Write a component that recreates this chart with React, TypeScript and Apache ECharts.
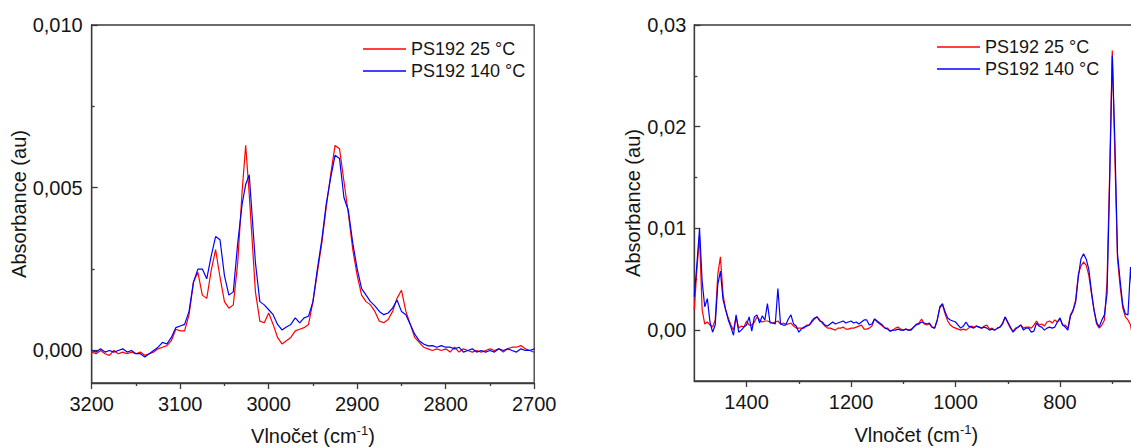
import React, { useEffect, useRef } from "react";
import * as echarts from "echarts";

const seriesNames = ["PS192 25 °C", "PS192 140 °C"];

// Left panel: C-H stretching region
const chWavenumber = [
  3200, 3195, 3190, 3185, 3180, 3175, 3170, 3165, 3160, 3155,
  3150, 3145, 3140, 3135, 3130, 3125, 3120, 3115, 3110, 3105,
  3100, 3095, 3090, 3085, 3080, 3075, 3070, 3065, 3060, 3055,
  3050, 3045, 3040, 3035, 3030, 3026, 3022, 3015, 3010, 3005,
  3000, 2995, 2990, 2985, 2980, 2975, 2970, 2965, 2960, 2955,
  2950, 2945, 2940, 2935, 2930, 2925, 2920, 2915, 2910, 2905,
  2900, 2895, 2890, 2885, 2880, 2875, 2870, 2865, 2860, 2855,
  2850, 2845, 2840, 2835, 2830, 2825, 2820, 2815, 2810, 2805,
  2800, 2795, 2790, 2785, 2780, 2775, 2770, 2765, 2760, 2755,
  2750, 2745, 2740, 2735, 2730, 2725, 2720, 2715, 2710, 2705,
  2700,
];
const chRed = [
  -0.00005, -0.0001, 0, -0.0001, -0.00015, 0, -0.0001, -0.00005, -0.0001, -0.00005,
  -0.0001, -0.00005, -0.00015, -0.0001, -0.00005, 0.00005, 0.0001, 0.00015, 0.0003, 0.00065,
  0.0006, 0.0006, 0.0011, 0.0021, 0.0024, 0.0017, 0.0016, 0.00245, 0.0031, 0.00225,
  0.0015, 0.0013, 0.0014, 0.0027, 0.0049, 0.0063, 0.0048, 0.0018, 0.0009, 0.00085,
  0.00115, 0.0008, 0.0004, 0.0002, 0.0003, 0.0004, 0.0006, 0.00065, 0.0007, 0.0008,
  0.0015, 0.0024, 0.0033, 0.0044, 0.0054, 0.0063, 0.0062, 0.0052, 0.0042, 0.0031,
  0.0023, 0.0017, 0.0015, 0.0014, 0.0012, 0.0009, 0.00085, 0.00095, 0.0012, 0.0016,
  0.00185, 0.0012, 0.0008, 0.0004, 0.00025, 0.0001, 0.00005, 0, 0.00005, 0,
  0.00005, -0.00005, 0.0001, -0.00005, 0.00005, 0, -0.00005, 0, -0.00005, 0,
  0.00005, 0, 0.00005, -0.00005, 0.00005, 0.0001, 0.0001, 0.00015, 0.00005, 0,
  -0.00005,
];
const chBlue = [
  0, -0.00005, 0.00005, -0.00005, 0, -0.00005, 0, 0.00005, -0.00005, 0,
  -0.0001, -0.0001, -0.0002, -0.0001, 0, 0.0001, 0.00025, 0.0002, 0.0004, 0.0007,
  0.00075, 0.0008, 0.0012, 0.0021, 0.0025, 0.0025, 0.0022, 0.0029, 0.0035, 0.0034,
  0.0023, 0.0017, 0.0018, 0.0033, 0.0045, 0.0051, 0.0054, 0.0027, 0.0015, 0.0014,
  0.00125, 0.0011, 0.0008, 0.00063, 0.00072, 0.0008, 0.001, 0.00085, 0.001, 0.00105,
  0.0015, 0.0025, 0.0034, 0.0045, 0.0053, 0.006, 0.0059, 0.0047, 0.0043, 0.0033,
  0.0025, 0.0019, 0.0017, 0.0015, 0.00137, 0.0012, 0.0011, 0.00115, 0.0013, 0.00155,
  0.0012, 0.0011, 0.0008, 0.0005, 0.0003, 0.0002, 0.00014, 0.00015, 0.0001, 0.00015,
  0.0001, 0.0001, 0.00005, 0.0001, -0.00005, 0, 0.00005, -0.00005, 0, -0.00005,
  0, -0.00005, 0.00005, 0, 0.00005, 0, -0.00005, 0.00005, 0, 0,
  0.00005,
];

// Right panel: fingerprint region
const fpWavenumber = [
  1500, 1495, 1490, 1485, 1480, 1475, 1470, 1465, 1460, 1455,
  1450, 1445, 1440, 1435, 1430, 1425, 1420, 1415, 1410, 1405,
  1400, 1395, 1390, 1385, 1380, 1375, 1370, 1365, 1360, 1355,
  1350, 1345, 1340, 1335, 1330, 1325, 1320, 1315, 1310, 1305,
  1300, 1295, 1290, 1285, 1280, 1275, 1270, 1265, 1260, 1255,
  1250, 1245, 1240, 1235, 1230, 1225, 1220, 1215, 1210, 1205,
  1200, 1195, 1190, 1185, 1180, 1175, 1170, 1165, 1160, 1155,
  1150, 1145, 1140, 1135, 1130, 1125, 1120, 1115, 1110, 1105,
  1100, 1095, 1090, 1085, 1080, 1075, 1070, 1065, 1060, 1055,
  1050, 1045, 1040, 1035, 1030, 1025, 1020, 1015, 1010, 1005,
  1000, 995, 990, 985, 980, 975, 970, 965, 960, 955,
  950, 945, 940, 935, 930, 925, 920, 915, 910, 905,
  900, 895, 890, 885, 880, 875, 870, 865, 860, 855,
  850, 845, 840, 835, 830, 825, 820, 815, 810, 805,
  800, 795, 790, 785, 780, 775, 770, 765, 760, 755,
  750, 745, 740, 735, 730, 725, 720, 715, 710, 705,
  700, 695, 690, 685, 680, 675, 670, 665, 660,
];
const fpRed = [
  0.002, 0.006, 0.0092, 0.002, 0.0006, 0.0008, 0.0005, 0.0003, 0.001, 0.0055,
  0.0072, 0.0035, 0.002, 0.0012, 0.0005, 0, 0.0013, 0.0002, 0.0004, 0.0003,
  0.0009, 0.0005, 0.0005, 0.0008, 0.0013, 0.001, 0.0008, 0.0009, 0.0009, 0.0008,
  0.0007, 0.0008, 0.0009, 0.0006, 0.0007, 0.0006, 0.0006, 0.0007, 0.0004, 0.0002,
  0.0002, 0.0002, 0.0002, 0.0005, 0.0005, 0.0008, 0.0011, 0.0013, 0.001, 0.0007,
  0.0004, 0.0002, 0.0002, 0.0001, 0, 0.0002, 0.0002, 0.0003, 0.0001, 0.0001,
  0.0002, 0.0002, 0.0003, 0.0004, 0.0005, 0.0001, 0.0001, 0.0002, 0.0004, 0.0011,
  0.0008, 0.0006, 0.0004, 0.0002, 0.0002, -0.0001, 0, 0.0002, 0.0003, 0.0001,
  0, 0.0001, 0, 0.0001, 0.0003, 0.0005, 0.0007, 0.0011, 0.0006, 0.0005,
  0.0006, 0.0003, 0.0002, 0.001, 0.0022, 0.0025, 0.0016, 0.0009, 0.0005, 0.0003,
  0.0002, 0.0001, 0, 0.0001, 0, 0.0002, 0.0004, 0.0003, 0.0004, 0.0003,
  0.0002, 0.0004, 0.0005, 0.0001, 0.0002, 0, 0.0002, 0.0003, 0.0007, 0.0013,
  0.0007, 0.0002, -0.0001, 0.0002, 0.0003, 0.0005, 0.0002, 0.0003, 0.0003, 0.0002,
  0.0005, 0.0009, 0.0005, 0.0006, 0.0004, 0.0008, 0.0009, 0.0007, 0.001, 0.0008,
  0.0011, 0.0005, 0.0005, 0.0002, 0.0015, 0.002, 0.003, 0.0055, 0.0063, 0.0067,
  0.0064, 0.0054, 0.0036, 0.002, 0.0006, 0.0002, 0.0005, 0.001, 0.0048, 0.0155,
  0.0275, 0.017, 0.007, 0.0043, 0.0022, 0.0013, 0.001, 0.0005, -0.001,
];
const fpBlue = [
  0.0033, 0.0065, 0.01, 0.0048, 0.0023, 0.0031, 0.0008, -0.0002, 0.0005, 0.0045,
  0.0058, 0.003, 0.002, 0.001, 0.0003, -0.0005, 0.0015, -0.0002, 0, 0.0003,
  0.0005, 0.0013, -0.0001, 0.0013, 0.0015, 0.0007, 0.0014, 0.001, 0.0026, 0.0007,
  0.0007, 0.0006, 0.0041, 0.0006, 0.0005, 0.0005, 0.0011, 0.0015, 0.0006, 0.0004,
  -0.0002, 0.0001, 0.0003, 0.0004, 0.0005, 0.0009, 0.0012, 0.0013, 0.0009, 0.0008,
  0.0005, 0.0004, 0.0006, 0.0008, 0.0006, 0.0007, 0.0008, 0.0009, 0.0007, 0.0008,
  0.0009, 0.0007, 0.0008, 0.0006, 0.0008, 0.001, 0.001, 0.0005, 0.0006, 0.0011,
  0.0009, 0.0007, 0.0005, 0.0002, 0.0001, -0.0001, 0, 0, 0.0001, 0,
  0, 0.0001, 0, 0, 0.0003, 0.0006, 0.0006, 0.0008, 0.0007, 0.0006,
  0.0007, 0.0003, 0.0002, 0.001, 0.0023, 0.0026, 0.0018, 0.0012, 0.001, 0.0009,
  0.0008, 0.0005, 0.0002, 0.0004, 0.0008, 0.0004, 0.0003, 0.0002, 0.0004, 0.0003,
  0.0002, 0.0003, 0.0002, 0, 0.0001, 0, 0.0002, 0.0003, 0.0006, 0.0013,
  0.0008, 0.0003, -0.0002, 0.0001, 0.0003, 0.0005, 0, 0.0002, 0.0002, -0.0002,
  -0.0001, 0.0007, 0.0004, 0.0003, 0, 0.0002, 0.0003, 0.0002, 0.0003, 0.0008,
  0.0012, 0.0005, 0.0003, 0, 0.0014, 0.0019, 0.0028, 0.0052, 0.007, 0.0075,
  0.007, 0.006, 0.0039, 0.002, 0.0008, 0.0003, 0.001, 0.0015, 0.0036, 0.0145,
  0.027, 0.0185, 0.0075, 0.0049, 0.0025, 0.0016, 0.0015, 0.0062, 0.002,
];

// Axis ticks
const chYTicks = [0, 0.005, 0.01];
const chYMinorTicks = [0.0025, 0.0075];
const fpXTicks = [1400, 1200, 1000, 800];
const fpXMinorTicks = [1300, 1100, 900, 700];
const fpYTicks = [0, 0.01, 0.02, 0.03];
const fpYMinorTicks = [0.005, 0.015, 0.025];

const FONT = "'Liberation Sans', Arial, sans-serif";
const AXIS_COLOR = "#3a3a3a";
const TEXT_COLOR = "#151515";
const RED = "#ff0000";
const BLUE = "#0000ff";

const G0 = { left: 91.7, top: 25, width: 442.5, height: 358 };
const G1 = { left: 694.3, top: 25, width: 444.1, height: 356 };

const labelStyle = { fontFamily: FONT, fontSize: 20, color: TEXT_COLOR };
const lineStyle = { color: AXIS_COLOR, width: 1.3 };

const xName = "{n|Vlnočet (cm}{s|-1}{n|)}";
const xNameStyle = {
  rich: {
    n: { fontFamily: FONT, fontSize: 20, color: TEXT_COLOR, lineHeight: 24 },
    s: { fontFamily: FONT, fontSize: 13, color: TEXT_COLOR, lineHeight: 14, verticalAlign: "top" },
  },
};

const comma = (d: number) => (v: number) => v.toFixed(d).replace(".", ",");
const plain = (v: number) => String(v);

export default function App() {
  const ref = useRef<HTMLDivElement>(null);

  useEffect(() => {
    if (!ref.current) return;
    const chart = echarts.init(ref.current, undefined, { renderer: "svg" });

    const legendBase = {
      orient: "vertical",
      icon: "rect",
      itemWidth: 43,
      itemHeight: 1.3,
      itemGap: 4,
      selectedMode: false,
      data: seriesNames,
      textStyle: { fontFamily: FONT, fontSize: 18, color: TEXT_COLOR, lineHeight: 18 },
    };

    const gridBase = {
      show: true,
      borderColor: AXIS_COLOR,
      borderWidth: 1.3,
      containLabel: false,
      outerBoundsMode: "none",
    };

    const option: any = {
      animation: false,
      backgroundColor: "#ffffff",
      grid: [
        { ...G0, ...gridBase },
        { ...G1, ...gridBase },
      ],
      legend: [
        { ...legendBase, left: 358, top: 35 },
        { ...legendBase, left: 932, top: 33 },
      ],
      xAxis: [
        {
          gridIndex: 0,
          type: "value",
          min: 2700,
          max: 3200,
          interval: 100,
          inverse: true,
          position: "bottom",
          axisLine: { show: true, onZero: false, lineStyle },
          axisTick: { show: true, inside: false, length: 6, lineStyle },
          minorTick: { show: true, splitNumber: 2, length: 3, lineStyle },
          axisLabel: { ...labelStyle, margin: 11, formatter: plain },
          splitLine: { show: false },
          name: xName,
          nameLocation: "middle",
          nameGap: 41,
          nameTextStyle: xNameStyle,
        },
        {
          gridIndex: 1,
          type: "value",
          min: 650,
          max: 1500,
          inverse: true,
          position: "bottom",
          axisLine: { show: true, onZero: false, lineStyle },
          axisTick: { show: true, inside: false, length: 6, lineStyle, customValues: fpXTicks },
          axisLabel: { ...labelStyle, margin: 11, customValues: fpXTicks, formatter: plain },
          splitLine: { show: false },
          name: xName,
          nameLocation: "middle",
          nameGap: 42,
          nameTextStyle: xNameStyle,
        },
        {
          gridIndex: 1,
          type: "value",
          min: 650,
          max: 1500,
          inverse: true,
          position: "top",
          offset: -G1.height,
          axisLine: { show: false, onZero: false },
          axisTick: { show: true, inside: true, length: 3, lineStyle, customValues: fpXMinorTicks },
          axisLabel: { show: false },
          splitLine: { show: false },
        },
      ],
      yAxis: [
        {
          gridIndex: 0,
          type: "value",
          min: -0.001,
          max: 0.01,
          position: "left",
          axisLine: { show: true, onZero: false, lineStyle },
          axisTick: { show: true, inside: true, length: 6, lineStyle, customValues: chYTicks },
          axisLabel: { ...labelStyle, margin: 9, customValues: chYTicks, formatter: comma(3) },
          splitLine: { show: false },
          name: "Absorbance (au)",
          nameLocation: "middle",
          nameGap: 62,
          nameTextStyle: { fontFamily: FONT, fontSize: 20, color: TEXT_COLOR },
        },
        {
          gridIndex: 0,
          type: "value",
          min: -0.001,
          max: 0.01,
          position: "right",
          offset: -G0.width,
          axisLine: { show: false, onZero: false },
          axisTick: { show: true, inside: false, length: 3, lineStyle, customValues: chYMinorTicks },
          axisLabel: { show: false },
          splitLine: { show: false },
        },
        {
          gridIndex: 1,
          type: "value",
          min: -0.005,
          max: 0.03,
          position: "left",
          axisLine: { show: true, onZero: false, lineStyle },
          axisTick: { show: true, inside: true, length: 6, lineStyle, customValues: fpYTicks },
          axisLabel: { ...labelStyle, margin: 8, customValues: fpYTicks, formatter: comma(2) },
          splitLine: { show: false },
          name: "Absorbance (au)",
          nameLocation: "middle",
          nameGap: 50,
          nameTextStyle: { fontFamily: FONT, fontSize: 20, color: TEXT_COLOR },
        },
        {
          gridIndex: 1,
          type: "value",
          min: -0.005,
          max: 0.03,
          position: "right",
          offset: -G1.width,
          axisLine: { show: false, onZero: false },
          axisTick: { show: true, inside: false, length: 3, lineStyle, customValues: fpYMinorTicks },
          axisLabel: { show: false },
          splitLine: { show: false },
        },
      ],
      series: [
        {
          name: seriesNames[0],
          type: "line",
          xAxisIndex: 0,
          yAxisIndex: 0,
          symbol: "none",
          data: chWavenumber.map((w, i) => [w, chRed[i]]),
          lineStyle: { color: RED, width: 1.2 },
          itemStyle: { color: RED },
        },
        {
          name: seriesNames[1],
          type: "line",
          xAxisIndex: 0,
          yAxisIndex: 0,
          symbol: "none",
          data: chWavenumber.map((w, i) => [w, chBlue[i]]),
          lineStyle: { color: BLUE, width: 1.2 },
          itemStyle: { color: BLUE },
        },
        {
          name: seriesNames[0],
          type: "line",
          xAxisIndex: 1,
          yAxisIndex: 2,
          symbol: "none",
          data: fpWavenumber.map((w, i) => [w, fpRed[i]]),
          lineStyle: { color: RED, width: 1.2 },
          itemStyle: { color: RED },
        },
        {
          name: seriesNames[1],
          type: "line",
          xAxisIndex: 1,
          yAxisIndex: 2,
          symbol: "none",
          data: fpWavenumber.map((w, i) => [w, fpBlue[i]]),
          lineStyle: { color: BLUE, width: 1.2 },
          itemStyle: { color: BLUE },
        },
      ],
    };

    chart.setOption(option);
    return () => chart.dispose();
  }, []);

  return (
    <div
      style={{
        position: "fixed",
        left: 0,
        top: 0,
        width: 1131,
        height: 448,
        overflow: "hidden",
        background: "#ffffff",
      }}
    >
      <div ref={ref} style={{ width: 1170, height: 448 }} />
    </div>
  );
}
